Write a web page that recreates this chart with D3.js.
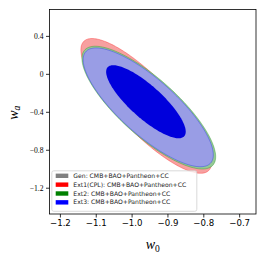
<!DOCTYPE html>
<html>
<head>
<meta charset="utf-8">
<script src="https://cdn.jsdelivr.net/npm/d3@7"></script>
<style>
  body { margin: 0; background: #fff; }
  .axis path, .axis line { stroke: #000; stroke-width: 0.8; }
  .x-axis text { font-family: "DejaVu Sans", sans-serif; font-size: 8.6px; fill: #000; }
  .y-axis text { font-family: "Liberation Serif", "DejaVu Serif", serif; font-size: 7.6px; fill: #000; }
  .label { font-family: "Liberation Serif", "DejaVu Serif", serif; font-style: italic; fill: #000; }
  .legend text { font-family: "DejaVu Sans", sans-serif; font-size: 6.1px; fill: #222; }
</style>
</head>
<body>
<div id="chart"></div>
<script>
(function () {

  // series names + legend text
  const series = ["Gen", "Ext1(CPL)", "Ext2", "Ext3"]
  const labels = [
    "Gen: CMB+BAO+Pantheon+CC",
    "Ext1(CPL): CMB+BAO+Pantheon+CC",
    "Ext2: CMB+BAO+Pantheon+CC",
    "Ext3: CMB+BAO+Pantheon+CC"
  ]

  // 95% contours: centre (w0, wa), half extent in w0 and wa, correlation
  const outerW0 = [-0.9535, -0.959, -0.952, -0.9536]
  const outerWa = [-0.353, -0.338, -0.356, -0.353]
  const outerHalfW0 = [0.174, 0.1825, 0.1866, 0.1815]
  const outerHalfWa = [0.584, 0.7105, 0.647, 0.626]
  const outerRho = [-0.80, -0.83, -0.80, -0.80]

  // 68% contours
  const innerW0 = [-0.959, -0.961, -0.959, -0.960]
  const innerWa = [-0.298, -0.294, -0.298, -0.294]
  const innerHalfW0 = [0.104, 0.106, 0.107, 0.111]
  const innerHalfWa = [0.36, 0.375, 0.37, 0.385]
  const innerRho = [-0.82, -0.84, -0.82, -0.82]

  const xTicks = [-1.2, -1.1, -1.0, -0.9, -0.8, -0.7]
  const yTicks = [0.4, 0, -0.4, -0.8, -1.2]

  const lineColors = ["#808080", "#ff0000", "#008000", "#0000ff"]
  const lightFill = ["#b4b4b4", "#f7a0a0", "#94c994", "#9a9aec"]
  const darkFill = ["#5a5a5a", "#cc0000", "#006400", "#0000dc"]

  const margin = { top: 9.5, right: 10, bottom: 43, left: 49.5 }
  const width = 266 - margin.left - margin.right
  const height = 257 - margin.top - margin.bottom

  const svg = d3.select("#chart").append("svg")
      .attr("width", width + margin.left + margin.right)
      .attr("height", height + margin.top + margin.bottom)
      .append("g")
      .attr("transform", "translate(" + margin.left + "," + margin.top + ")")

  const xPositionScale = d3.scaleLinear()
    .domain([-1.229, -0.653])
    .range([0, width])

  const yPositionScale = d3.scaleLinear()
    .domain([-1.477, 0.678])
    .range([height, 0])

  svg.append("clipPath").attr("id", "plot-clip")
    .append("rect").attr("width", width).attr("height", height)

  const plot = svg.append("g").attr("clip-path", "url(#plot-clip)")

  const angles = d3.range(0, 2 * Math.PI, Math.PI / 90)

  function ellipse (cx, cy, hx, hy, rho) {
    return angles.map(t => [
      cx + hx * Math.cos(t),
      cy + hy * (rho * Math.cos(t) + Math.sqrt(1 - rho * rho) * Math.sin(t))
    ])
  }

  const line = d3.line()
    .x(d => xPositionScale(d[0]))
    .y(d => yPositionScale(d[1]))
    .curve(d3.curveLinearClosed)

  const contours = series.map((s, i) => ({
    name: s,
    i: i,
    outer: ellipse(outerW0[i], outerWa[i], outerHalfW0[i], outerHalfWa[i], outerRho[i]),
    inner: ellipse(innerW0[i], innerWa[i], innerHalfW0[i], innerHalfWa[i], innerRho[i])
  }))

  const groups = plot.selectAll("g.contour")
    .data(contours)
    .join("g")
    .attr("class", "contour")

  groups.append("path")
    .attr("d", d => line(d.outer))
    .attr("fill", d => lightFill[d.i])
    .attr("fill-opacity", d => d.i === 3 ? 0.93 : 1)
    .attr("stroke", d => lineColors[d.i])
    .attr("stroke-opacity", 0.5)
    .attr("stroke-width", 0.6)

  groups.append("path")
    .attr("d", d => line(d.inner))
    .attr("fill", d => darkFill[d.i])
    .attr("stroke", "none")

  // frame
  svg.append("rect")
    .attr("width", width)
    .attr("height", height)
    .attr("fill", "none")
    .attr("stroke", "#000")
    .attr("stroke-width", 0.8)

  const xAxis = d3.axisBottom(xPositionScale)
    .tickValues(xTicks)
    .tickSize(3.5)
    .tickSizeOuter(0)
    .tickPadding(2.5)
    .tickFormat(d3.format(".1f"))
  svg.append("g")
    .attr("class", "axis x-axis")
    .attr("transform", "translate(0," + height + ")")
    .call(xAxis)

  const yAxis = d3.axisLeft(yPositionScale)
    .tickValues(yTicks)
    .tickSize(3.5)
    .tickSizeOuter(0)
    .tickPadding(2.5)
    .tickFormat(d => d === 0 ? "0" : d3.format(".1f")(d))
  svg.append("g")
    .attr("class", "axis y-axis")
    .call(yAxis)

  svg.selectAll(".axis .domain").remove()

  // axis labels
  const xl = svg.append("text")
    .attr("class", "label")
    .attr("x", width / 2)
    .attr("y", height + 35)
    .attr("text-anchor", "middle")
    .style("font-size", "14px")
  xl.append("tspan").text("w")
  xl.append("tspan").attr("dy", 2.5).style("font-size", "9.5px").style("font-style", "normal").text("0")

  const yl = svg.append("text")
    .attr("class", "label")
    .attr("transform", "translate(" + (-32) + "," + (height / 2 + 1) + ") rotate(-90)")
    .attr("text-anchor", "middle")
    .style("font-size", "14px")
  yl.append("tspan").text("w")
  yl.append("tspan").attr("dy", 2.5).style("font-size", "9.5px").text("a")

  // legend
  const legend = svg.append("g")
    .attr("class", "legend")
    .attr("transform", "translate(2.3,161.3)")

  legend.append("rect")
    .attr("width", 145)
    .attr("height", 40.5)
    .attr("rx", 2)
    .attr("fill", "#fff")
    .attr("fill-opacity", 0.8)
    .attr("stroke", "#d0d0d0")
    .attr("stroke-width", 0.8)

  const rows = legend.selectAll("g.row")
    .data(labels)
    .join("g")
    .attr("class", "row")
    .attr("transform", (d, i) => "translate(3.9," + (5 + i * 8.85) + ")")

  rows.append("rect")
    .attr("width", 12.6)
    .attr("height", 4.4)
    .attr("y", -2.2)
    .attr("fill", (d, i) => lineColors[i])

  rows.append("text")
    .attr("x", 17.6)
    .attr("dy", "0.35em")
    .text(d => d)

})();
</script>
</body>
</html>
